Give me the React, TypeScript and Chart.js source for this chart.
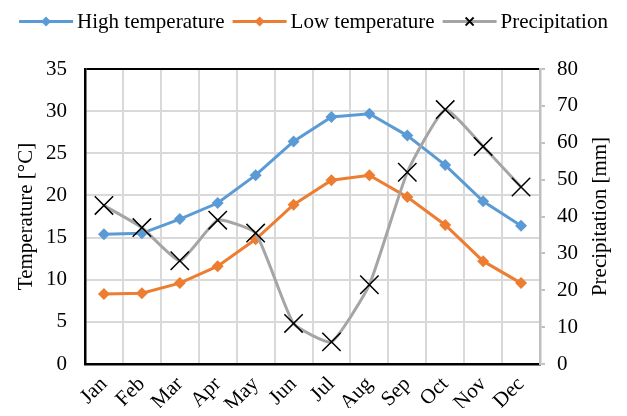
import React, { useEffect, useRef } from "react";
import { Chart, registerables } from "chart.js";

Chart.register(...registerables);

const months = ["Jan", "Feb", "Mar", "Apr", "May", "Jun", "Jul", "Aug", "Sep", "Oct", "Nov", "Dec"];
const highTemp = [15.4, 15.5, 17.2, 19.1, 22.4, 26.4, 29.3, 29.7, 27.1, 23.6, 19.3, 16.4];
const lowTemp = [8.3, 8.4, 9.6, 11.6, 14.8, 18.9, 21.8, 22.4, 19.8, 16.5, 12.2, 9.6];
const precipitation = [43, 37, 28, 39, 35.5, 11, 6, 21.5, 52, 69, 59, 48];
const tempTicks = [0, 35, 5];
const precipTicks = [0, 80, 10];
const rightTitle = "Precipitation [mm]";

const FONT = '"Liberation Serif", "Times New Roman", serif';
const FS = 21;
const BLUE = "#5B9BD5";
const ORANGE = "#ED7D31";
const GRAY = "#A5A5A5";

const legendPlugin = {
  id: "customLegend",
  afterDraw(chart: any) {
    const ctx = chart.ctx as CanvasRenderingContext2D;
    ctx.save();
    ctx.font = `${FS}px ${FONT}`;
    const ds = chart.data.datasets as any[];
    const lineLen = 54;
    const gapText = 4;
    const gapItem = 8;
    const widths = ds.map((d) => ctx.measureText(d.label).width);
    const total = widths.reduce((s, w) => s + lineLen + gapText + w, 0) + gapItem * (ds.length - 1);
    let x = (chart.width - total) / 2;
    const y = 13.5;
    ds.forEach((d, i) => {
      ctx.strokeStyle = d.borderColor;
      ctx.lineWidth = 3;
      ctx.beginPath();
      ctx.moveTo(x, y);
      ctx.lineTo(x + lineLen, y);
      ctx.stroke();
      const cx = x + lineLen / 2;
      if (d.pointStyle === "rectRot") {
        ctx.fillStyle = d.pointBackgroundColor;
        const r = 5;
        ctx.beginPath();
        ctx.moveTo(cx, y - r);
        ctx.lineTo(cx + r, y);
        ctx.lineTo(cx, y + r);
        ctx.lineTo(cx - r, y);
        ctx.closePath();
        ctx.fill();
      } else {
        ctx.strokeStyle = "#000";
        ctx.lineWidth = 1.8;
        const r = 4;
        ctx.beginPath();
        ctx.moveTo(cx - r, y - r);
        ctx.lineTo(cx + r, y + r);
        ctx.moveTo(cx + r, y - r);
        ctx.lineTo(cx - r, y + r);
        ctx.stroke();
      }
      ctx.fillStyle = "#000";
      ctx.textBaseline = "middle";
      ctx.textAlign = "left";
      ctx.fillText(d.label, x + lineLen + gapText, y + 1);
      x += lineLen + gapText + widths[i] + gapItem;
    });

    // right axis title, reading bottom-to-top
    const area = chart.chartArea;
    ctx.translate(chart.width - 19, (area.top + area.bottom) / 2);
    ctx.rotate(-Math.PI / 2);
    ctx.textAlign = "center";
    ctx.textBaseline = "middle";
    ctx.fillText(rightTitle, 0, 0);
    ctx.restore();
  },
};

export default function App() {
  const ref = useRef<HTMLCanvasElement | null>(null);
  useEffect(() => {
    if (!ref.current) return;
    const chart = new Chart(ref.current, {
      type: "line",
      data: {
        labels: months,
        datasets: [
          {
            label: "High temperature",
            data: highTemp,
            yAxisID: "y",
            borderColor: BLUE,
            backgroundColor: BLUE,
            pointBackgroundColor: BLUE,
            pointBorderColor: BLUE,
            borderWidth: 3,
            pointStyle: "rectRot",
            pointRadius: 6,
            pointBorderWidth: 0,
            tension: 0,
            order: 3,
          },
          {
            label: "Low temperature",
            data: lowTemp,
            yAxisID: "y",
            borderColor: ORANGE,
            backgroundColor: ORANGE,
            pointBackgroundColor: ORANGE,
            pointBorderColor: ORANGE,
            borderWidth: 3,
            pointStyle: "rectRot",
            pointRadius: 6,
            pointBorderWidth: 0,
            tension: 0,
            order: 2,
          },
          {
            label: "Precipitation",
            data: precipitation,
            yAxisID: "y1",
            borderColor: GRAY,
            backgroundColor: "#000",
            pointBackgroundColor: "#000",
            pointBorderColor: "#000",
            borderWidth: 3,
            pointStyle: "crossRot",
            pointRadius: 13,
            pointBorderWidth: 1.5,
            tension: 0.15,
            order: 1,
          },
        ],
      },
      options: {
        responsive: false,
        animation: false,
        layout: { padding: { top: 61, bottom: 0, left: 0, right: 0 } },
        plugins: { legend: { display: false }, tooltip: { enabled: false } },
        scales: {
          x: {
            offset: true,
            grid: { offset: true, color: "#D9D9D9", lineWidth: 2, drawTicks: false },
            border: { color: "#000", width: 2.5 },
            ticks: {
              color: "#000",
              font: { family: FONT, size: FS },
              minRotation: 45,
              maxRotation: 45,
              autoSkip: false,
              padding: 8,
            },
            afterFit: (s: any) => {
              s.height = 44;
            },
          },
          y: {
            position: "left",
            min: tempTicks[0],
            max: tempTicks[1],
            ticks: { stepSize: tempTicks[2], color: "#000", font: { family: FONT, size: FS }, padding: 18 },
            grid: {
              color: (c: any) => (c.tick && c.tick.value === tempTicks[1] ? "#000" : "#D9D9D9"),
              lineWidth: 2,
              drawTicks: false,
            },
            border: { color: "#000", width: 2.5 },
            title: {
              display: true,
              text: "Temperature [°C]",
              color: "#000",
              font: { family: FONT, size: FS },
              padding: { top: 6, bottom: 0 },
            },
            afterFit: (s: any) => {
              s.width = 77;
            },
          },
          y1: {
            position: "right",
            min: precipTicks[0],
            max: precipTicks[1],
            ticks: { stepSize: precipTicks[2], color: "#000", font: { family: FONT, size: FS }, padding: 12 },
            grid: { drawOnChartArea: false, drawTicks: true, tickLength: 5, color: "#BFBFBF", lineWidth: 2 },
            border: { color: "#BFBFBF", width: 2.5 },
            afterFit: (s: any) => {
              s.width = 79;
            },
          },
        },
      },
      plugins: [legendPlugin],
    });
    return () => chart.destroy();
  }, []);
  return <canvas ref={ref} width={611} height={400} style={{ display: "block" }} />;
}
